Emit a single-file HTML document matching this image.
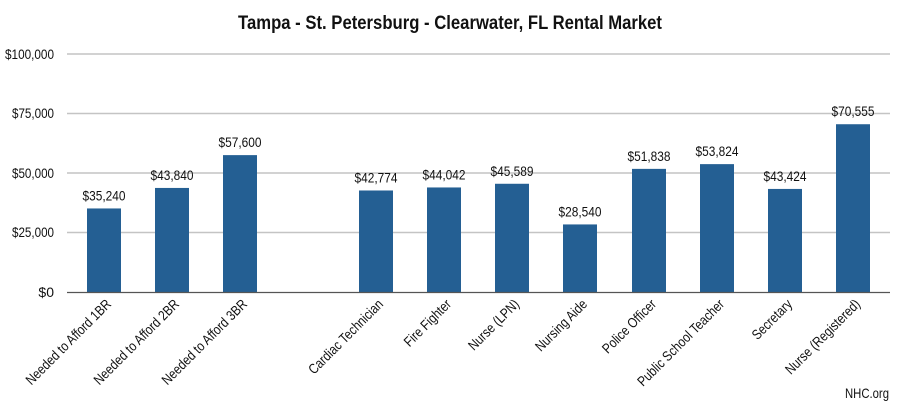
<!DOCTYPE html>
<html><head><meta charset="utf-8"><style>
body{margin:0;background:#fff}
svg{display:block}
text{font-family:"Liberation Sans Narrow","Liberation Sans",sans-serif;fill:#111}
</style></head><body>
<svg width="900" height="406" viewBox="0 0 900 406" xmlns="http://www.w3.org/2000/svg">
<rect width="900" height="406" fill="#fff"/>
<text x="450" y="29" text-anchor="middle" font-size="19" font-weight="bold" textLength="424" lengthAdjust="spacingAndGlyphs">Tampa - St. Petersburg - Clearwater, FL Rental Market</text>
<g stroke="#c4c4c4" stroke-width="1.5">
<line x1="67" y1="54" x2="890" y2="54"/>
<line x1="67" y1="113.5" x2="890" y2="113.5"/>
<line x1="67" y1="173" x2="890" y2="173"/>
<line x1="67" y1="232.5" x2="890" y2="232.5"/>
</g>
<g font-size="14" text-anchor="end" lengthAdjust="spacingAndGlyphs">
<text x="54" y="59" textLength="49" lengthAdjust="spacingAndGlyphs">$100,000</text>
<text x="54" y="118" textLength="42" lengthAdjust="spacingAndGlyphs">$75,000</text>
<text x="54" y="178" textLength="42" lengthAdjust="spacingAndGlyphs">$50,000</text>
<text x="54" y="237" textLength="42" lengthAdjust="spacingAndGlyphs">$25,000</text>
<text x="54" y="297">$0</text>
</g>
<g fill="#245f93" id="bars"></g>
<line x1="67" y1="292.5" x2="890" y2="292.5" stroke="#555" stroke-width="1.2"/>
<g id="lbl"></g>
<text x="889" y="398" text-anchor="end" font-size="14" textLength="44" lengthAdjust="spacingAndGlyphs">NHC.org</text>
<script>
var d=[[87,35240,"Needed to Afford 1BR"],[155,43840,"Needed to Afford 2BR"],[223,57600,"Needed to Afford 3BR"],[359,42774,"Cardiac Technician"],[427,44042,"Fire Fighter"],[495,45589,"Nurse (LPN)"],[563,28540,"Nursing Aide"],[632,51838,"Police Officer"],[700,53824,"Public School Teacher"],[768,43424,"Secretary"],[836,70555,"Nurse (Registered)"]];
var ns="http://www.w3.org/2000/svg",b=document.getElementById("bars"),l=document.getElementById("lbl");
d.forEach(function(e){var h=e[1]*0.002385,y=292.5-h;
var r=document.createElementNS(ns,"rect");r.setAttribute("x",e[0]);r.setAttribute("y",y);r.setAttribute("width",34);r.setAttribute("height",h);b.appendChild(r);
var c=e[0]+17;
var t=document.createElementNS(ns,"text");t.setAttribute("x",c);t.setAttribute("y",y-8);t.setAttribute("text-anchor","middle");t.setAttribute("font-size","14");t.setAttribute("textLength","43");t.setAttribute("lengthAdjust","spacingAndGlyphs");t.textContent="$"+e[1].toLocaleString("en-US");l.appendChild(t);
var u=document.createElementNS(ns,"text");u.setAttribute("text-anchor","end");u.setAttribute("font-size","14");u.setAttribute("transform","translate("+(c+8)+",305) rotate(-45) scale(0.84,1)");u.textContent=e[2];l.appendChild(u);});
</script>
</svg>
</body></html>
